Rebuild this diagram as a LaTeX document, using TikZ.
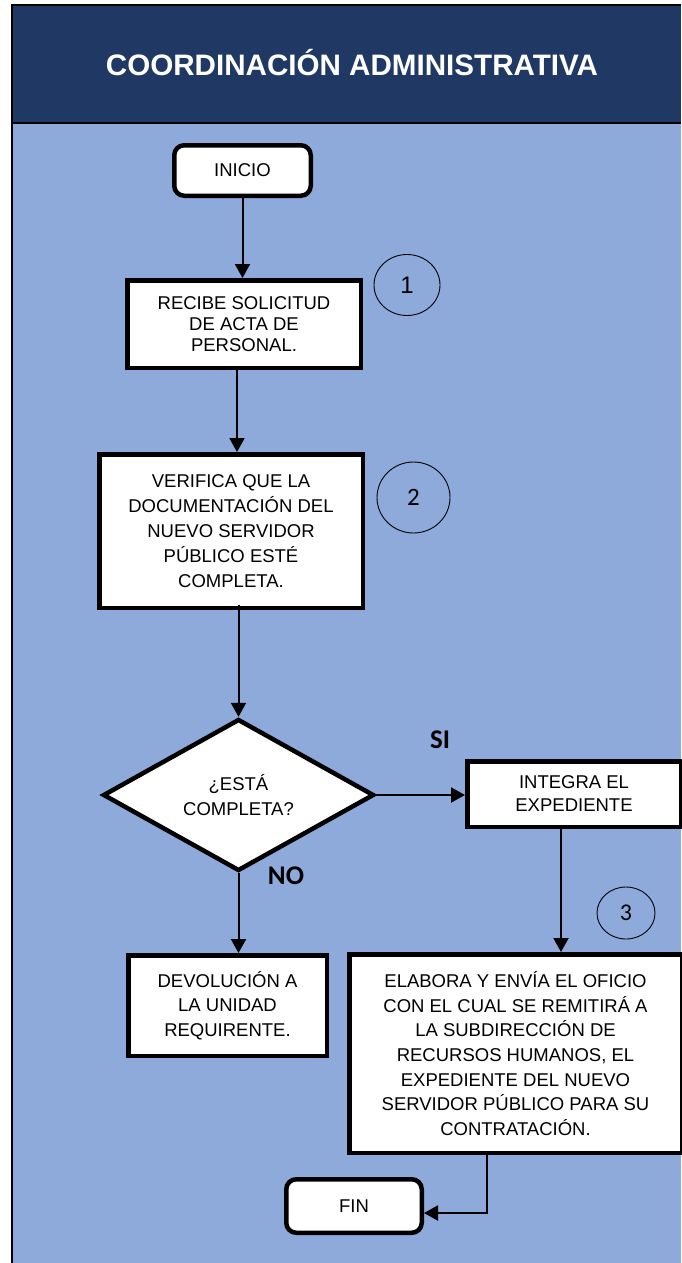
\documentclass[tikz,border=0pt]{standalone}
\usepackage{fontspec}
\setmainfont{Liberation Sans}
\newfontfamily\calibri{Carlito}
\usetikzlibrary{arrows.meta,shapes.geometric}

\definecolor{hdrblue}{RGB}{31,56,100}
\definecolor{lightblue}{RGB}{142,170,219}

\begin{document}
\begin{tikzpicture}[x=1pt,y=-1pt,
  stepbox/.style={draw=black,fill=white,line width=4.5pt,inner sep=0pt,
    align=center,font=\fontsize{18.5}{25}\selectfont},
  termbox/.style={stepbox,rounded corners=10pt},
  decbox/.style={stepbox,shape=diamond},
  stepnum/.style={draw=black,line width=0.9pt,shape=ellipse,inner sep=0pt,
    font=\calibri\fontsize{25}{28}\selectfont},
  branch/.style={font=\calibri\bfseries\fontsize{27}{30}\selectfont},
  arr/.style={line width=2pt,-{Triangle[length=14pt,width=15pt]}},
  plain/.style={line width=2pt}]

\useasboundingbox (0,0) rectangle (681,1263);

% page background and frame
\fill[hdrblue] (13,6) rectangle (681,122);
\fill[lightblue] (13,124) rectangle (681,1263);
\draw[line width=2pt] (11,5) -- (681,5);
\draw[line width=2.5pt] (12,4) -- (12,1263);
\draw[line width=2pt] (13,123) -- (681,123);

% header title
\node[text=white,font=\bfseries\fontsize{29.6}{34}\selectfont] (title) at (352,63)
  {COORDINACIÓN ADMINISTRATIVA};

% flow nodes
\node[termbox,minimum width=136.5pt,minimum height=50.5pt] (inicio) at (242.5,170.5) {INICIO};

\node[stepbox,minimum width=233.5pt,minimum height=87.5pt,
  font=\fontsize{18.5}{21}\selectfont] (recibe) at (244,324)
  {RECIBE SOLICITUD\\DE ACTA DE\\PERSONAL.};

\node[stepbox,minimum width=263.5pt,minimum height=153.5pt] (verifica) at (231,531)
  {VERIFICA QUE LA\\DOCUMENTACIÓN DEL\\NUEVO SERVIDOR\\PÚBLICO ESTÉ\\COMPLETA.};

\node[decbox,minimum width=271pt,minimum height=135pt] (decision) at (238.5,795)
  {¿ESTÁ\\COMPLETA?};

\node[stepbox,minimum width=213.5pt,minimum height=65.5pt,
  font=\fontsize{18.5}{23}\selectfont] (integra) at (574,794)
  {INTEGRA EL\\EXPEDIENTE};

\node[stepbox,minimum width=198.5pt,minimum height=100.5pt,
  font=\fontsize{18.5}{24.5}\selectfont] (devol) at (227.5,1005.5)
  {DEVOLUCIÓN A\\LA UNIDAD\\REQUIRENTE.};

\node[stepbox,minimum width=332.5pt,minimum height=198.5pt,
  font=\fontsize{18.5}{24.6}\selectfont] (elabora) at (515.5,1053.5)
  {ELABORA Y ENVÍA EL OFICIO\\CON EL CUAL SE REMITIRÁ A\\LA SUBDIRECCIÓN DE\\RECURSOS HUMANOS, EL\\EXPEDIENTE DEL NUEVO\\SERVIDOR PÚBLICO PARA SU\\CONTRATACIÓN.};

\node[termbox,minimum width=135.5pt,minimum height=53.5pt] (fin) at (354,1206) {FIN};

% step numbers
\node[stepnum,font=\fontsize{24}{28}\selectfont,minimum width=66pt,minimum height=61pt] (n1) at (407,285) {1};
\node[stepnum,minimum width=73pt,minimum height=71pt] (n2) at (413.5,497.5) {2};
\node[stepnum,font=\calibri\fontsize{24}{28}\selectfont,minimum width=58pt,minimum height=52pt] (n3) at (626,913) {3};

% branch labels
\node[branch] (si) at (440,740) {SI};
\node[branch] (no) at (286,876) {NO};

% connectors
\draw[arr] (inicio.south) -- (inicio.south |- recibe.north);
\draw[arr] ([xshift=-7pt]recibe.south) -- ([xshift=-7pt]recibe.south |- verifica.north);
\draw[arr] ([yshift=5pt]decision.north |- verifica.south) -- (decision.north);
\draw[arr] (decision.east) -- (decision.east -| integra.west);
\draw[arr] (decision.south) -- (decision.south |- devol.north);
\draw[arr] ([xshift=-13pt]integra.south) -- ([xshift=-13pt]integra.south |- elabora.north);
\draw[arr] ([xshift=-28.5pt]elabora.south) |- ([yshift=-7pt]fin.east);

\end{tikzpicture}
\end{document}
